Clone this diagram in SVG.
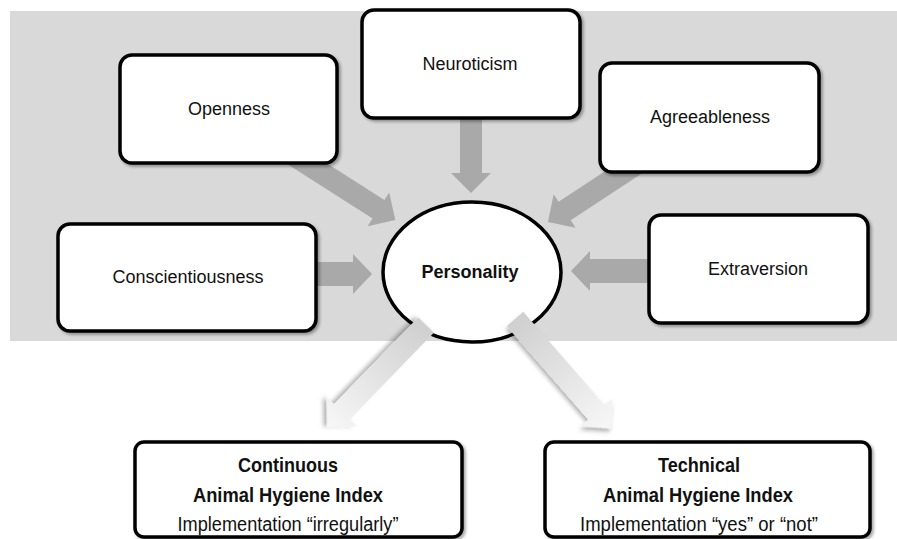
<svg xmlns="http://www.w3.org/2000/svg" width="897" height="539" viewBox="0 0 897 539">
<defs>
<style>
.box{fill:#fff;stroke:#000;stroke-width:3.5;filter:url(#sh)}
.t{font-family:"Liberation Sans",Arial,sans-serif;font-size:18px;fill:#111;text-anchor:middle}
.b{font-weight:bold}
.n{font-family:"Liberation Sans Narrow","Liberation Sans",Arial,sans-serif;fill:#111;text-anchor:middle}
.nb{font-size:21px;font-weight:bold}
.nr{font-size:20px}
.arr{fill:#a9a9a9}
.warr{fill:url(#wg);filter:url(#sh2)}
</style>
<filter id="sh" x="-10%" y="-10%" width="120%" height="130%">
<feDropShadow dx="2" dy="2" stdDeviation="1.5" flood-color="#000" flood-opacity="0.35"/>
</filter>
<filter id="sh2" x="-20%" y="-40%" width="140%" height="180%">
<feDropShadow dx="2" dy="3" stdDeviation="2" flood-color="#000" flood-opacity="0.3"/>
</filter>
<linearGradient id="wg" x1="0" y1="0" x2="1" y2="0">
<stop offset="0" stop-color="#cfcfcf"/>
<stop offset="1" stop-color="#f7f7f7"/>
</linearGradient>
</defs>
<rect x="10" y="11" width="887" height="330" fill="#d9d9d9"/>
<g id="personality">
<ellipse cx="472" cy="272" rx="89" ry="70" fill="#fff" stroke="#000" stroke-width="3.5"/>
<text class="t b" x="470" y="278">Personality</text>
</g>
<g id="connectors">
<polygon class="arr" transform="translate(306,163) rotate(32.6)" points="-20,-11 86,-11 86,-20 106,0 86,20 86,11 -20,11"/>
<polygon class="arr" transform="translate(471,118) rotate(90)" points="-10,-11 55,-11 55,-20 75,0 55,20 55,11 -10,11"/>
<polygon class="arr" transform="translate(624,172) rotate(146.7)" points="-20,-11 71,-11 71,-20 91,0 71,20 71,11 -20,11"/>
<polygon class="arr" transform="translate(316,274) rotate(0)" points="-10,-12 37,-12 37,-20 56,0 37,20 37,12 -10,12"/>
<polygon class="arr" transform="translate(649,271) rotate(180)" points="-10,-12 59,-12 59,-20 78,0 59,20 59,12 -10,12"/>
<polygon class="warr" transform="translate(426,325) rotate(134.1)" points="0,-11 121,-11 121,-21 142,0 121,21 121,11 0,11"/>
<polygon class="warr" transform="translate(515,319) rotate(48.9)" points="0,-11 124,-11 124,-21 145,0 124,21 124,11 0,11"/>
</g>
<g id="openness">
<rect class="box" x="120" y="55" width="217" height="108" rx="12"/>
<text class="t" x="229" y="115">Openness</text>
</g>
<g id="conscientiousness">
<rect class="box" x="58" y="224" width="258" height="107" rx="12"/>
<text class="t" x="188" y="283">Conscientiousness</text>
</g>
<g id="neuroticism">
<rect class="box" x="362" y="10" width="218" height="108" rx="12"/>
<text class="t" x="470" y="70">Neuroticism</text>
</g>
<g id="agreeableness">
<rect class="box" x="600" y="63" width="219" height="109" rx="12"/>
<text class="t" x="710" y="123">Agreeableness</text>
</g>
<g id="extraversion">
<rect class="box" x="649" y="215" width="219" height="108" rx="12"/>
<text class="t" x="758" y="275">Extraversion</text>
</g>
<g id="continuous">
<rect class="box" x="135" y="442" width="327" height="95" rx="9"/>
<text class="n nb" x="288" y="472" textLength="100" lengthAdjust="spacingAndGlyphs">Continuous</text>
<text class="n nb" x="288" y="502" textLength="190" lengthAdjust="spacingAndGlyphs">Animal Hygiene Index</text>
<text class="n nr" x="288" y="531" textLength="221" lengthAdjust="spacingAndGlyphs">Implementation “irregularly”</text>
</g>
<g id="technical">
<rect class="box" x="545" y="442" width="325" height="95" rx="9"/>
<text class="n nb" x="699" y="472" textLength="82" lengthAdjust="spacingAndGlyphs">Technical</text>
<text class="n nb" x="698" y="502" textLength="190" lengthAdjust="spacingAndGlyphs">Animal Hygiene Index</text>
<text class="n nr" x="699" y="531" textLength="238" lengthAdjust="spacingAndGlyphs">Implementation “yes” or “not”</text>
</g>
</svg>
